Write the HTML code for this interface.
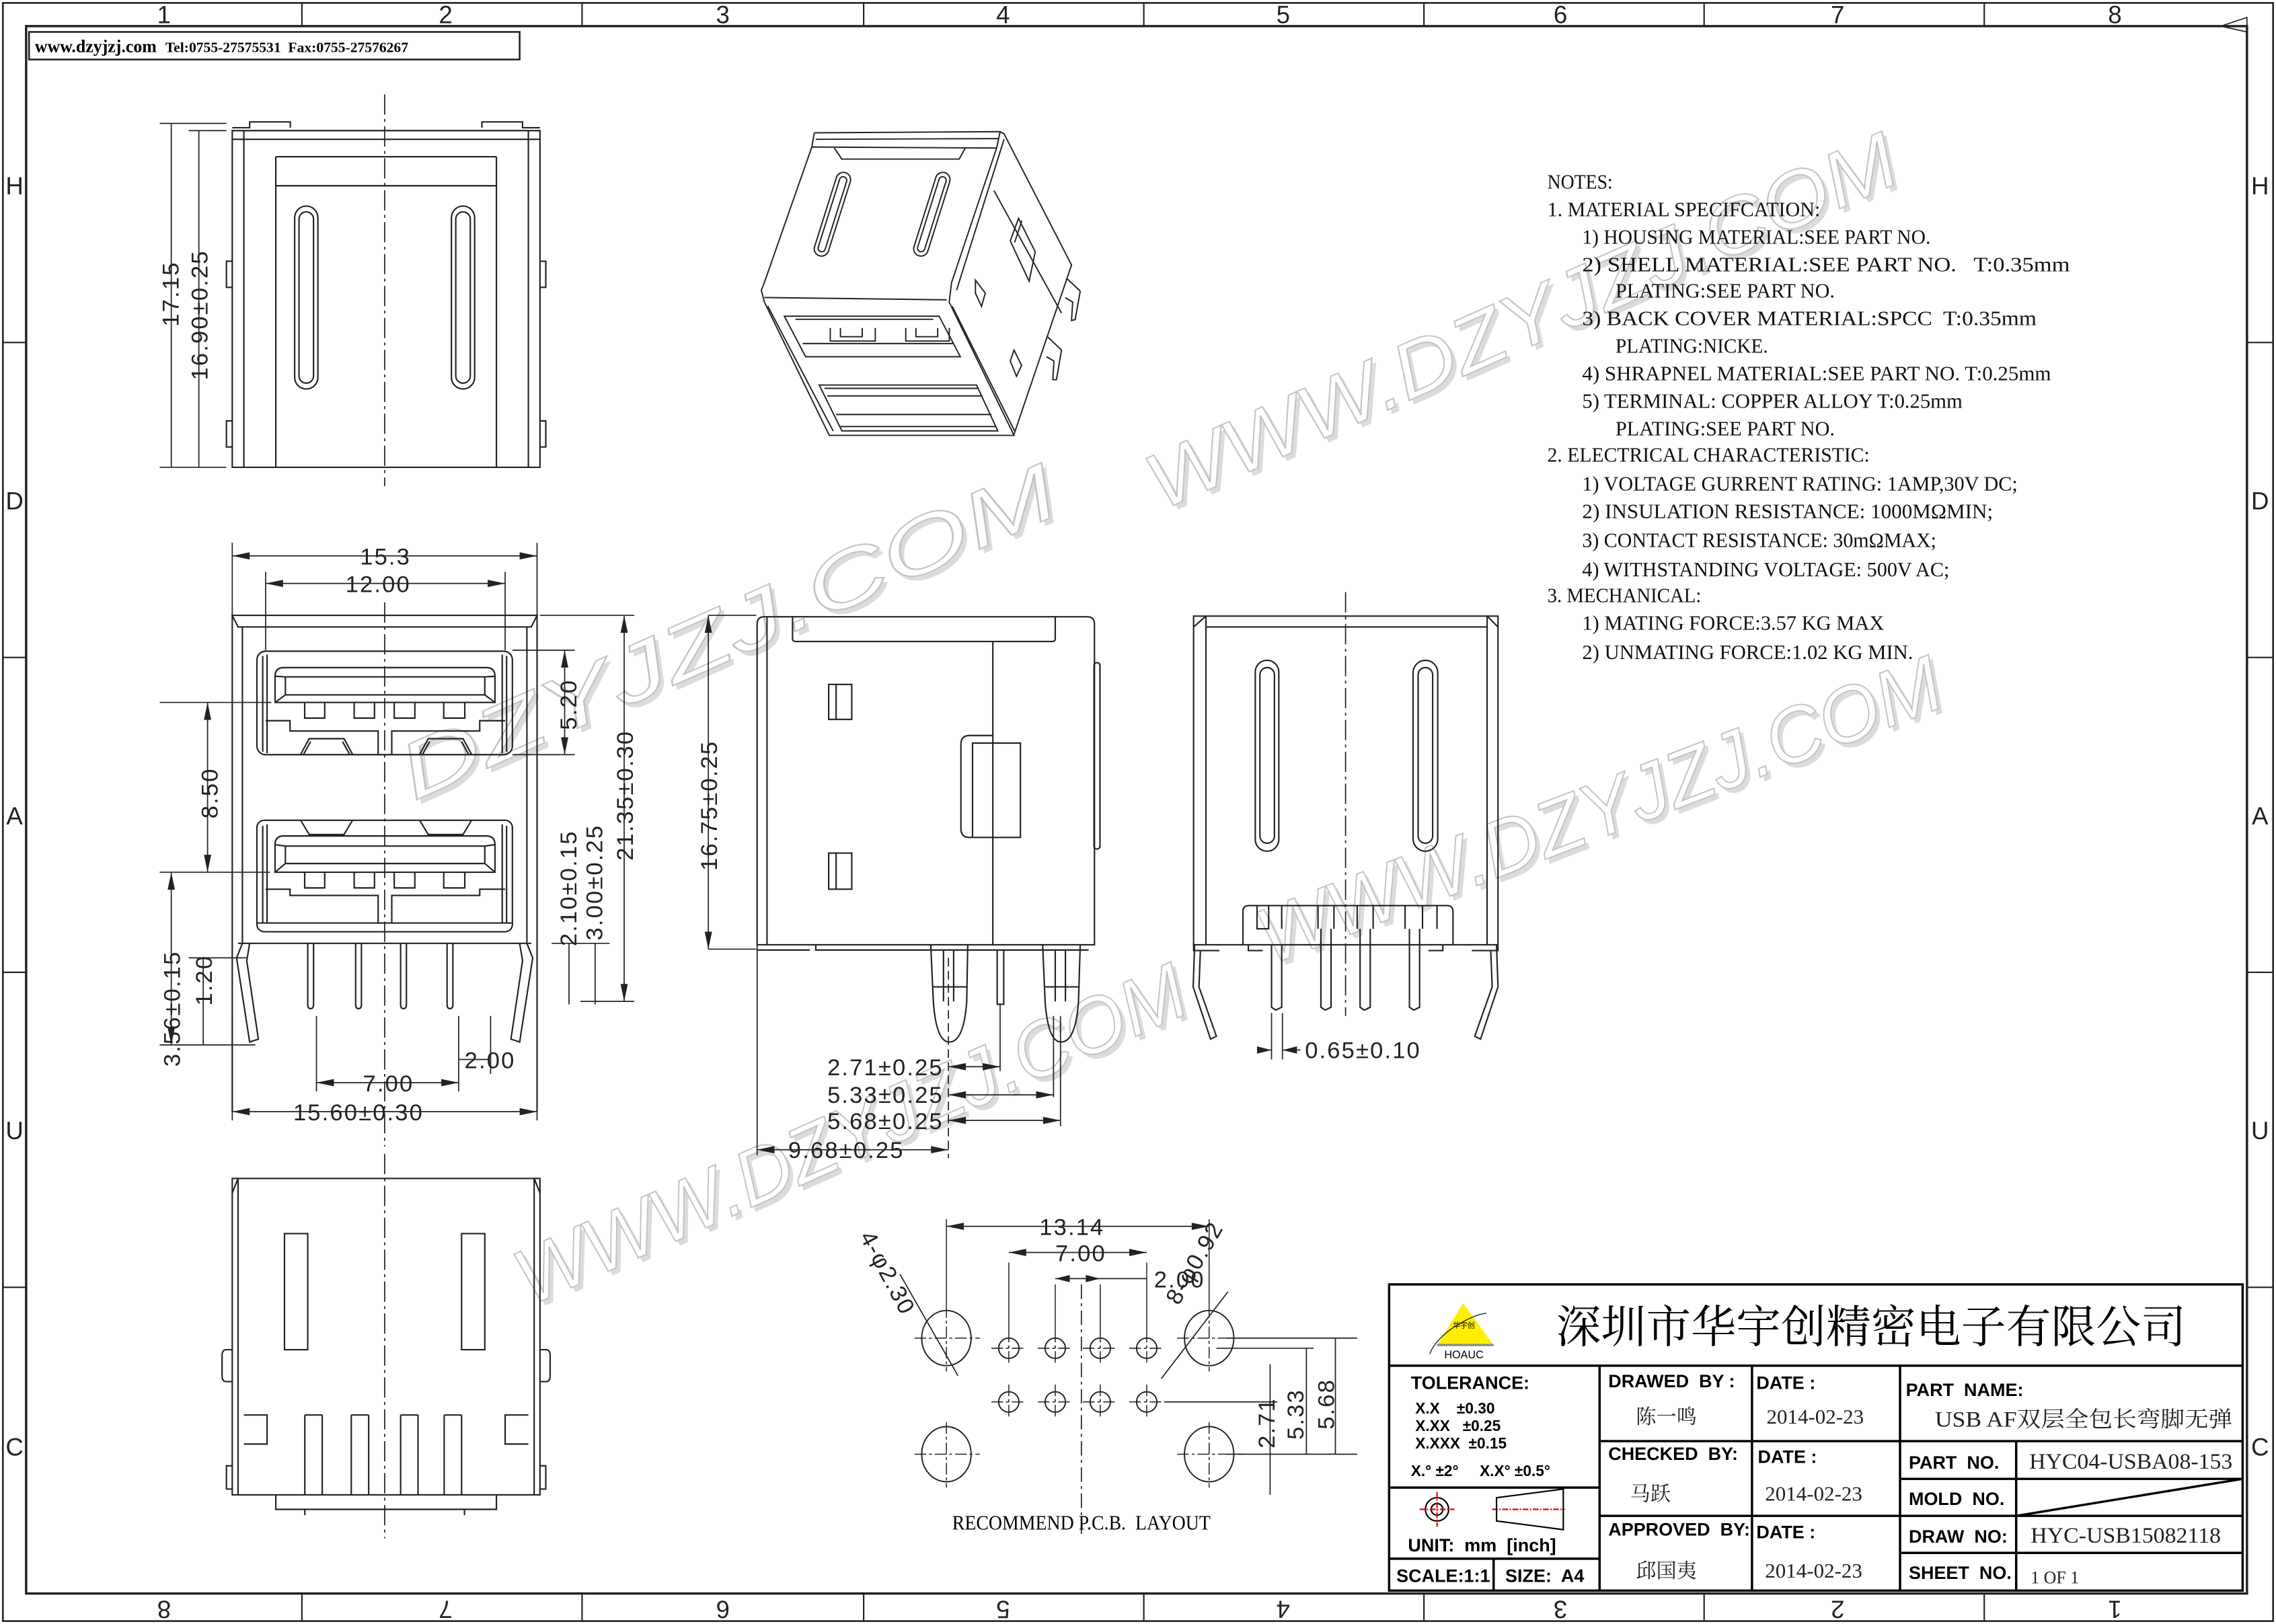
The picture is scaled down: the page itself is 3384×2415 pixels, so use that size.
<!DOCTYPE html>
<html><head><meta charset="utf-8">
<style>
html,body{margin:0;padding:0;background:#fff;}
svg{display:block;}
text{white-space:pre;}
.dim{font-family:"Liberation Sans",sans-serif;font-size:16px;fill:#222;letter-spacing:1px;}
.note{font-family:"Liberation Serif","Noto Serif CJK SC",serif;font-size:14px;fill:#111;}
.tb{font-family:"Liberation Sans","Noto Sans CJK SC",sans-serif;font-size:12.5px;fill:#000;font-weight:bold;}
.tv{font-family:"Liberation Serif","Noto Serif CJK SC",serif;font-size:14px;fill:#222;}
.rul{font-family:"Liberation Sans",sans-serif;font-size:17px;fill:#222;}
.wm{font-family:"Liberation Sans",sans-serif;font-size:54px;font-style:italic;fill:#fff;stroke:#c4c4c4;stroke-width:0.9;}
.wms{font-family:"Liberation Sans",sans-serif;font-size:54px;font-style:italic;fill:#dcdcdc;}
</style></head><body>
<svg width="3384" height="2415" viewBox="0 0 1568 1119" xmlns="http://www.w3.org/2000/svg">
<rect width="1568" height="1119" fill="#fff"/>
<!-- watermarks -->
<g>
<text class="wms" transform="translate(803,355) rotate(-24)" textLength="560" lengthAdjust="spacingAndGlyphs">WWW.DZYJZJ.COM</text>
<text class="wm" transform="translate(800,352) rotate(-24)" textLength="560" lengthAdjust="spacingAndGlyphs">WWW.DZYJZJ.COM</text>
<text class="wms" transform="translate(288,555) rotate(-24)" textLength="490" lengthAdjust="spacingAndGlyphs">DZYJZJ.COM</text>
<text class="wm" transform="translate(285,552) rotate(-24)" textLength="490" lengthAdjust="spacingAndGlyphs">DZYJZJ.COM</text>
<text class="wms" transform="translate(878,668) rotate(-21)" textLength="500" lengthAdjust="spacingAndGlyphs">WWW.DZYJZJ.COM</text>
<text class="wm" transform="translate(875,665) rotate(-21)" textLength="500" lengthAdjust="spacingAndGlyphs">WWW.DZYJZJ.COM</text>
<text class="wms" transform="translate(368,903) rotate(-24)" textLength="500" lengthAdjust="spacingAndGlyphs">WWW.DZYJZJ.COM</text>
<text class="wm" transform="translate(365,900) rotate(-24)" textLength="500" lengthAdjust="spacingAndGlyphs">WWW.DZYJZJ.COM</text>
</g>
<g fill="none" stroke="#222" stroke-width="1">
<!-- frame -->
<rect x="2" y="2" width="1564" height="1115" stroke-width="1.2"/>
<rect x="18" y="18" width="1530" height="1080" stroke-width="1.6"/>
<path d="M208,2V18M401,2V18M595,2V18M788,2V18M981,2V18M1174,2V18M1367,2V18
M208,1098V1117M401,1098V1117M595,1098V1117M788,1098V1117M981,1098V1117M1174,1098V1117M1367,1098V1117
M2,236H18M2,453H18M2,670H18M2,887H18M1548,236H1566M1548,453H1566M1548,670H1566M1548,887H1566"/>
<path d="M1530,18 L1548,12 L1548,22Z" stroke-width="0.8"/>
<rect x="20" y="22" width="338" height="19" stroke-width="1.2"/>

<!-- TOP VIEW -->
<path d="M265,65V335" stroke-dasharray="14,3,2,3" stroke-width="0.8"/>
<path d="M160,90H372V322H160Z"/>
<path d="M160,96H372M168,90V322M364,90V322M190,108H342M190,108V128H342V108M190,128V322M342,128V322"/>
<path d="M160,88h12v-4h28v4M372,88h-12v-4h-28v4"/>
<path d="M160,180h-4v18h4M372,180h4v18h-4M160,290h-4v18h4M372,290h4v18h-4"/>
<rect x="203" y="142" width="16" height="126" rx="8"/><rect x="206" y="146" width="10" height="118" rx="5"/>
<rect x="311" y="142" width="16" height="126" rx="8"/><rect x="314" y="146" width="10" height="118" rx="5"/>
<path d="M156,85H110M156,90H130M156,322H110M118,85V322M137,90V322" stroke-width="0.8"/>

<!-- FRONT VIEW -->
<path d="M265,415V790" stroke-dasharray="14,3,2,3" stroke-width="0.8"/>
<path d="M160,424H370L366,432H164Z"/>
<path d="M160,424V766M370,424V766M167,432V650M363,432V650"/>
<rect x="177" y="448.7" width="176" height="71.3" rx="6"/>
<path d="M181,452V518M349,452V518M184,451V519M346,451V519"/>
<path d="M189.5,484V466q0,-6 6,-6H335q6,0 6,6V484Z"/>
<path d="M196.6,466.4H334V478.8H196.6Z M189.5,466L196.6,466.4M341,466L334,466.4M189.5,484L196.6,478.8M341,484L334,478.8"/>
<path d="M209.9,484V494.8H223.7V484M244,484V494.8H258V484M271.6,484V494.8H285.8V484M305.7,484V494.8H320.2V484"/>
<path d="M183,496.6H199.8V503.7H260.5V520M269.9,520V503.7H330.5V496.6H348"/>
<path d="M207,520l6,-11h24l6,11M209,520l5,-9M241,520l-5,-9M289,520l6,-11h24l6,11M291,520l5,-9M323,520l-5,-9"/>
<rect x="177" y="565.2" width="176" height="76.8" rx="5"/>
<path d="M181,569V636M349,569V636M184,568V636M346,568V636"/>
<path d="M189.5,601V582q0,-6 6,-6H335q6,0 6,6V601Z"/>
<path d="M196.6,583H334V595H196.6Z M189.5,582L196.6,583M341,582L334,583M189.5,601L196.6,595M341,601L334,595"/>
<path d="M209.9,601V611.8H223.7V601M244,601V611.8H258V601M271.6,601V611.8H285.8V601M305.7,601V611.8H320.2V601"/>
<path d="M183,612.7H199.8V617H260.5V636M269.9,636V617H330.5V612.7H348"/>
<path d="M207,565l6,10h24l6,-10M289,565l6,10h24l6,-10"/>
<path d="M177,636H353"/>
<path d="M164,650H366"/>
<path d="M212,650V692q0,3 2,3t2,-3V650M245,650V692q0,3 2,3t2,-3V650M276,650V692q0,3 2,3t2,-3V650M308,650V692q0,3 2,3t2,-3V650"/>
<path d="M167,650L163,660L172,718L178,716L170,662L172,650M363,650L367,660L358,718L352,716L360,662L358,650"/>
<path d="M160,424V374M370,424V374M183,448V394M348,448V394" stroke-width="0.8"/>
<path d="M160,383H370M183,402H348M110,484H187M110,601H186M389,448V520M353,448H396M353,520H396" stroke-width="0.8"/>
<path d="M143,484V601M118,601V720M140,660V720M110,720H176M130,660H170" stroke-width="0.8"/>
<path d="M430,424V690M372,424H437M392,650V692M410,650V692M400,690H437M380,650H420" stroke-width="0.8"/>
<path d="M218,700V752M316,700V752M338,700V740M218,746H316M316,730H338M160,700V772M370,700V772M160,766H370" stroke-width="0.8"/>

<!-- BOTTOM VIEW -->
<path d="M265,795V1060" stroke-dasharray="14,3,2,3" stroke-width="0.8"/>
<path d="M160,812H372V1030H160Z"/>
<path d="M164,812V1030M368,812V1030M160,822L164,812M372,822L368,812"/>
<rect x="196" y="850" width="16" height="80"/><rect x="318" y="850" width="16" height="80"/>
<path d="M160,930h-4q-3,0-3,4v14q0,4 3,4h4M372,930h4q3,0 3,4v14q0,4-3,4h-4"/>
<path d="M160,1010h-4v16h4M372,1010h4v16h-4"/>
<path d="M168,975h16v20h-16M364,975h-16v20h16"/>
<path d="M210,975v55M222,975v55M242,975v55M254,975v55M276,975v55M288,975v55M306,975v55M318,975v55M210,975h12M242,975h12M276,975h12M306,975h12"/>
<path d="M190,1030v10h152v-10M210,1040v4M320,1040v4"/>

<!-- ISO VIEW -->
<g stroke-width="0.9">
<path d="M561,91.5L689,90.7L691.7,92.2L738.2,182.6L698.6,299.2"/>
<path d="M561,91.5L559.3,101.3L526.6,194.6L524.5,200L526.6,208.1L571.3,300L698.6,300L653.9,208.1L655.6,194.6L686.6,102L689,90.7"/>
<path d="M559.3,101.3L686.6,102M562,96L688,95.5M574.8,102L580,109.6L660.8,109.6L665,102"/>
<path d="M526.6,205L652.2,206.6M529,211L574,297M656,211L699,297"/>
<path d="M691.7,96L659,200M684.8,131.4L731.3,215.7"/>
<path d="M540.4,217.9L647,217.9L661.6,245.8L555,245.8Z M548,220L643,220M553,236.7L657,236.7"/>
<path d="M572,226V235H603V226M579,226V232H594V226M624,226V235H654V226M631,226V232H646V226"/>
<path d="M564.4,265.3L672.8,265.3L687.4,296.9L580,296.9Z M568,267.6L674,267.6M570,272.8L677,272.8M576,285.6L683,285.6M579,293.9L686,293.9"/>
<rect x="-5" y="0" width="10" height="60" rx="5" transform="translate(582.5,119) rotate(17.5)"/>
<rect x="-2.5" y="3" width="5" height="54" rx="2.5" transform="translate(582.5,119) rotate(17.5)"/>
<rect x="-5" y="0" width="10" height="60" rx="5" transform="translate(651,119) rotate(17.5)"/>
<rect x="-2.5" y="3" width="5" height="54" rx="2.5" transform="translate(651,119) rotate(17.5)"/>
<path d="M701.7,150.5L713.2,173.5L709,193.8L696,166Z M704,152L699,167"/>
<path d="M672,193L678.8,202L676.2,211.1L672,202Z M698.6,241.2L703.8,251.8L700.3,259.3L696,248.8Z"/>
<path d="M734.7,191.6L744.2,200.6L740.7,220.2L738.2,220.9L739,208.1L733.9,205.1"/>
<path d="M721.8,232.2L731.3,241.2L727.8,261.6L725.3,261.6L726.1,248.8L721,245.8"/>
</g>

<!-- SIDE VIEW -->
<path d="M521.6,651V430q0,-5 5,-5H749q5,0 5,5V651Z"/>
<path d="M528.4,425V651M684,442V651M546,424.5V440q0,2 2,2H725q2,0 2,-2V424.5"/>
<rect x="753.7" y="456.6" width="4.1" height="128.4" rx="2"/>
<path d="M684,506.8H668q-6,0 -6,6V571q0,6 6,6H684M670,512H703V577H670Z"/>
<rect x="570.9" y="471.6" width="15.9" height="24.1"/><path d="M576,471.6V495.7"/>
<rect x="570.9" y="587.8" width="15.9" height="24.9"/><path d="M576,587.8V612.7"/>
<path d="M521.6,654.6H558M562,651V654.6H750"/>
<path d="M641.2,651L643,690Q645,718 654,718Q664,718 666,690L666.7,651M650,655V690M657,655V690M643,680H666"/>
<path d="M718.3,651L720,690Q722,718 731,718Q741,718 743,690L744.2,651M727,655V690M734,655V690M720,680H743"/>
<path d="M687,654.6V692H691.5V654.6"/>
<path d="M653.4,660V798" stroke-dasharray="6,3" stroke-width="0.8"/>
<path d="M521.6,651V796M689,692V738M725.8,700V756M730.6,700V776M488,424H521M488,654H521M488,424V654" stroke-width="0.8"/>
<path d="M653.4,735H689M653.4,754.4H725.8M653.4,772H730.6M521.6,792.2H653.4" stroke-width="0.8"/>

<!-- REAR VIEW -->
<path d="M927,408V700" stroke-dasharray="14,3,2,3" stroke-width="0.8"/>
<path d="M822.3,424.5H1032V651H822.3Z"/>
<path d="M830.8,424.5V651M1024.5,424.5V651M830.8,432H1024.5M822.3,432L830.8,424.5M1032,432L1024.5,424.5"/>
<rect x="864.8" y="455" width="16.2" height="131.5" rx="8"/><rect x="868" y="460" width="10" height="121" rx="5"/>
<rect x="973.5" y="455" width="17" height="131.5" rx="8.5"/><rect x="977" y="460" width="10" height="121" rx="5"/>
<path d="M856.3,651V628q0,-4 4,-4H997q4,0 4,4V651"/>
<path d="M866,624V640H874V624M883,624V640M908,624V640M919,624V640M935,624V640M946,624V640M968,624V640M980,624V640M990,624V640"/>
<path d="M876,651V694l3,2l4,-2V651M910,640V694l3,2l4,-2V640M937,640V694l3,2l4,-2V640M971,640V694l3,2l4,-2V640"/>
<path d="M822.3,651V655H840M860,651V655H870M1032,651V655H1014M994,651V655H984"/>
<path d="M823,651L822,680L834,716L838,714L826,680L827,655M1031,651L1032,680L1020,716L1016,714L1028,680L1027,655"/>
<path d="M876,698V730M883.5,698V730M866,723.5H876M883.5,723.5H896" stroke-width="0.8"/>

<!-- PCB LAYOUT -->
<path d="M745,885V1060" stroke-dasharray="10,3,2,3" stroke-width="0.8"/>
<g stroke-width="0.9">
<ellipse cx="652" cy="922" rx="17" ry="19"/><ellipse cx="833" cy="922" rx="17" ry="19"/>
<ellipse cx="652" cy="1002" rx="17" ry="19"/><ellipse cx="833" cy="1002" rx="17" ry="19"/>
<circle cx="695" cy="929" r="7"/><circle cx="727" cy="929" r="7"/><circle cx="758" cy="929" r="7"/><circle cx="790" cy="929" r="7"/>
<circle cx="695" cy="966" r="7"/><circle cx="727" cy="966" r="7"/><circle cx="758" cy="966" r="7"/><circle cx="790" cy="966" r="7"/>
</g>
<path d="M630,922H675M811,922H856M630,1002H675M811,1002H856M652,900V945M833,900V945M652,980V1025M833,980V1025M683,929H707M715,929H739M746,929H770M778,929H802M683,966H707M715,966H739M746,966H770M778,966H802M695,917V941M727,917V941M758,917V941M790,917V941M695,954V978M727,954V978M758,954V978M790,954V978" stroke-dasharray="8,2,2,2" stroke-width="0.7"/>
<path d="M652,840V900M833,840V900M695,870V917M727,885V917M790,870V917M758,885V917" stroke-width="0.7"/>
<path d="M652,845H833M695,863H790M727,881H758M758,881H790" stroke-width="0.8"/>
<path d="M620,878L660,948M800,950L846,890M845,922H935M838,929H905M802,966H880M845,1002H935M900,929V1002M875,940V1030M920,922V1002" stroke-width="0.8"/>
</g>
<!-- arrowheads -->
<g fill="#222">
<path d="M160,383l12,-2.5v5Z M370,383l-12,-2.5v5Z M183,402l12,-2.5v5Z M348,402l-12,-2.5v5Z"/>
<path d="M389,448l-2.5,12h5Z M389,520l-2.5,-12h5Z M143,484l-2.5,12h5Z M143,601l-2.5,-12h5Z"/>
<path d="M430,424l-2.5,12h5Z M430,690l-2.5,-12h5Z M118,601l-2.5,12h5Z M118,720l-2.5,-12h5Z"/>
<path d="M218,746l12,-2.5v5Z M316,746l-12,-2.5v5Z M160,766l12,-2.5v5Z M370,766l-12,-2.5v5Z"/>
<path d="M488,424l-2.5,12h5Z M488,654l-2.5,-12h5Z"/>
<path d="M689,735l-12,-2.5v5Z M725.8,754.4l-12,-2.5v5Z M730.6,772l-12,-2.5v5Z M521.6,792.2l12,-2.5v5Z M653.4,792.2l-12,-2.5v5Z M653.4,735l12,-2.5v5Z M653.4,754.4l12,-2.5v5Z M653.4,772l12,-2.5v5Z"/>
<path d="M876,723.5l-10,-2.5v5Z M883.5,723.5l10,-2.5v5Z"/>
<path d="M652,845l12,-2.5v5Z M833,845l-12,-2.5v5Z M695,863l12,-2.5v5Z M790,863l-12,-2.5v5Z M727,881l10,-2.5v5Z M758,881l-10,-2.5v5Z"/>
</g>
<!-- ruler labels -->
<g class="rul" text-anchor="middle">
<text x="113" y="16">1</text><text x="307" y="16">2</text><text x="498" y="16">3</text><text x="691" y="16">4</text><text x="884" y="16">5</text><text x="1075" y="16">6</text><text x="1266" y="16">7</text><text x="1457" y="16">8</text>
<text transform="translate(113,1103) rotate(180)">8</text><text transform="translate(307,1103) rotate(180)">7</text><text transform="translate(498,1103) rotate(180)">6</text><text transform="translate(691,1103) rotate(180)">5</text><text transform="translate(884,1103) rotate(180)">4</text><text transform="translate(1075,1103) rotate(180)">3</text><text transform="translate(1266,1103) rotate(180)">2</text><text transform="translate(1457,1103) rotate(180)">1</text>
<text x="10" y="134">H</text><text x="10" y="351">D</text><text x="10" y="568">A</text><text x="10" y="785">U</text><text x="10" y="1003">C</text>
<text x="1557" y="134">H</text><text x="1557" y="351">D</text><text x="1557" y="568">A</text><text x="1557" y="785">U</text><text x="1557" y="1003">C</text>
</g>
<text x="24" y="36" style="font-family:'Liberation Serif',serif;font-size:12px;font-weight:bold">www.dzyjzj.com  <tspan font-size="10">Tel:0755-27575531  Fax:0755-27576267</tspan></text>
<!-- dim labels -->
<g class="dim">
<text transform="translate(123,225) rotate(-90)">17.15</text>
<text transform="translate(143,262) rotate(-90)">16.90±0.25</text>
<text x="248" y="389">15.3</text>
<text x="238" y="408">12.00</text>
<text transform="translate(397,503) rotate(-90)">5.20</text>
<text transform="translate(150,564) rotate(-90)">8.50</text>
<text transform="translate(397,652) rotate(-90)">2.10±0.15</text>
<text transform="translate(415,648) rotate(-90)">3.00±0.25</text>
<text transform="translate(436,593) rotate(-90)">21.35±0.30</text>
<text transform="translate(124,735) rotate(-90)">3.56±0.15</text>
<text transform="translate(146,693) rotate(-90)">1.20</text>
<text x="320" y="736">2.00</text>
<text x="250" y="752">7.00</text>
<text x="202" y="772">15.60±0.30</text>
<text transform="translate(494,600) rotate(-90)">16.75±0.25</text>
<text x="650" y="741" text-anchor="end">2.71±0.25</text>
<text x="650" y="760" text-anchor="end">5.33±0.25</text>
<text x="650" y="778" text-anchor="end">5.68±0.25</text>
<text x="543" y="798">9.68±0.25</text>
<text x="899" y="729">0.65±0.10</text>
<text x="716" y="851">13.14</text>
<text x="727" y="869">7.00</text>
<text x="795" y="887">2.00</text>
<text transform="translate(592,852) rotate(62)">4-φ2.30</text>
<text transform="translate(812,900) rotate(-60)">8-φ0.92</text>
<text transform="translate(878,998) rotate(-90)">2.71</text>
<text transform="translate(898,992) rotate(-90)">5.33</text>
<text transform="translate(919,985) rotate(-90)">5.68</text>
</g>
<text x="656" y="1054" textLength="178" lengthAdjust="spacingAndGlyphs" style="font-family:'Liberation Serif',serif;font-size:14px">RECOMMEND P.C.B.  LAYOUT</text>
<!-- notes -->
<g class="note" lengthAdjust="spacingAndGlyphs">
<text x="1066" y="130" textLength="45" lengthAdjust="spacingAndGlyphs">NOTES:</text>
<text x="1066" y="149" textLength="188" lengthAdjust="spacingAndGlyphs">1. MATERIAL SPECIFCATION:</text>
<text x="1090" y="168" textLength="240" lengthAdjust="spacingAndGlyphs">1) HOUSING MATERIAL:SEE PART NO.</text>
<text x="1090" y="187" textLength="336" lengthAdjust="spacingAndGlyphs">2) SHELL MATERIAL:SEE PART NO.   T:0.35mm</text>
<text x="1113" y="205" textLength="151" lengthAdjust="spacingAndGlyphs">PLATING:SEE PART NO.</text>
<text x="1090" y="224" textLength="313" lengthAdjust="spacingAndGlyphs">3) BACK COVER MATERIAL:SPCC  T:0.35mm</text>
<text x="1113" y="243" textLength="105" lengthAdjust="spacingAndGlyphs">PLATING:NICKE.</text>
<text x="1090" y="262" textLength="323" lengthAdjust="spacingAndGlyphs">4) SHRAPNEL MATERIAL:SEE PART NO. T:0.25mm</text>
<text x="1090" y="281" textLength="262" lengthAdjust="spacingAndGlyphs">5) TERMINAL: COPPER ALLOY T:0.25mm</text>
<text x="1113" y="300" textLength="151" lengthAdjust="spacingAndGlyphs">PLATING:SEE PART NO.</text>
<text x="1066" y="318" textLength="222" lengthAdjust="spacingAndGlyphs">2. ELECTRICAL CHARACTERISTIC:</text>
<text x="1090" y="338" textLength="300" lengthAdjust="spacingAndGlyphs">1) VOLTAGE GURRENT RATING: 1AMP,30V DC;</text>
<text x="1090" y="357" textLength="283" lengthAdjust="spacingAndGlyphs">2) INSULATION RESISTANCE: 1000MΩMIN;</text>
<text x="1090" y="377" textLength="244" lengthAdjust="spacingAndGlyphs">3) CONTACT RESISTANCE: 30mΩMAX;</text>
<text x="1090" y="397" textLength="253" lengthAdjust="spacingAndGlyphs">4) WITHSTANDING VOLTAGE: 500V AC;</text>
<text x="1066" y="415" textLength="106" lengthAdjust="spacingAndGlyphs">3. MECHANICAL:</text>
<text x="1090" y="434" textLength="208" lengthAdjust="spacingAndGlyphs">1) MATING FORCE:3.57 KG MAX</text>
<text x="1090" y="454" textLength="228" lengthAdjust="spacingAndGlyphs">2) UNMATING FORCE:1.02 KG MIN.</text>
</g>
<!-- title block -->
<g fill="none" stroke="#000" stroke-width="1.6">
<rect x="957" y="885" width="588" height="211"/>
<path d="M957,941H1545M1102,941V1096M1207,941V1096M1309,941V1096M1389,993V1096M957,1025H1102M957,1074H1102M1029,1074V1096M1102,993H1545M1102,1044.5H1545M1309,1019H1545M1309,1070H1545M1389,1044.5L1545,1019"/>
</g>
<path d="M1008,898L990,927H1029Z" fill="#ffee00"/>
<path d="M985,933C990,918 1016,905 1024,905" fill="none" stroke="#333" stroke-width="0.7"/>
<text x="1001" y="915" style="font-family:'Noto Sans CJK SC',sans-serif;font-size:5px">华宇创</text>
<rect x="990" y="926" width="39" height="1.5" fill="#888"/>
<text x="995" y="936" style="font-family:'Liberation Sans',sans-serif;font-size:7.5px">HOAUC</text>
<text x="1072" y="925" textLength="434" lengthAdjust="spacingAndGlyphs" style="font-family:'Liberation Serif','Noto Serif CJK SC',serif;font-size:31px">深圳市华宇创精密电子有限公司</text>
<g class="tb">
<text x="972" y="957">TOLERANCE:</text>
<text x="975" y="974" font-size="10.5">X.X    ±0.30</text>
<text x="975" y="986" font-size="10.5">X.XX   ±0.25</text>
<text x="975" y="998" font-size="10.5">X.XXX  ±0.15</text>
<text x="972" y="1017" font-size="10.5">X.° ±2°     X.X° ±0.5°</text>
<text x="970" y="1069">UNIT:  mm  [inch]</text>
<text x="962" y="1090">SCALE:1:1</text>
<text x="1037" y="1090">SIZE:  A4</text>
<text x="1108" y="956">DRAWED  BY :</text>
<text x="1210" y="957">DATE :</text>
<text x="1313" y="962">PART  NAME:</text>
<text x="1108" y="1006">CHECKED  BY:</text>
<text x="1211" y="1008">DATE :</text>
<text x="1315" y="1012">PART  NO.</text>
<text x="1315" y="1037">MOLD  NO.</text>
<text x="1108" y="1058">APPROVED  BY:</text>
<text x="1210" y="1060">DATE :</text>
<text x="1315" y="1063">DRAW  NO:</text>
<text x="1315" y="1088">SHEET  NO.</text>
</g>
<g stroke-width="1" fill="none">
<circle cx="990" cy="1040" r="8" stroke="#000"/><circle cx="990" cy="1040" r="4" stroke="#000"/>
<path d="M978,1040H1002M990,1028V1052M1028,1040H1078" stroke="#e00" stroke-dasharray="4,1,1,1"/>
<path d="M1031,1032L1077,1026V1054L1031,1048Z" stroke="#000"/>
</g>
<g class="tv">
<text x="1127" y="981">陈一鸣</text>
<text x="1217" y="981" textLength="67" lengthAdjust="spacingAndGlyphs">2014-02-23</text>
<text x="1333" y="983" font-size="15" textLength="205" lengthAdjust="spacingAndGlyphs">USB AF双层全包长弯脚无弹</text>
<text x="1123" y="1034">马跃</text>
<text x="1216" y="1034" textLength="67" lengthAdjust="spacingAndGlyphs">2014-02-23</text>
<text x="1398" y="1012" font-size="15" textLength="140" lengthAdjust="spacingAndGlyphs">HYC04-USBA08-153</text>
<text x="1127" y="1087">邱国夷</text>
<text x="1216" y="1087" textLength="67" lengthAdjust="spacingAndGlyphs">2014-02-23</text>
<text x="1399" y="1063" font-size="15" textLength="131" lengthAdjust="spacingAndGlyphs">HYC-USB15082118</text>
<text x="1399" y="1091" font-size="12">1 OF 1</text>
</g>
</svg>
</body></html>
